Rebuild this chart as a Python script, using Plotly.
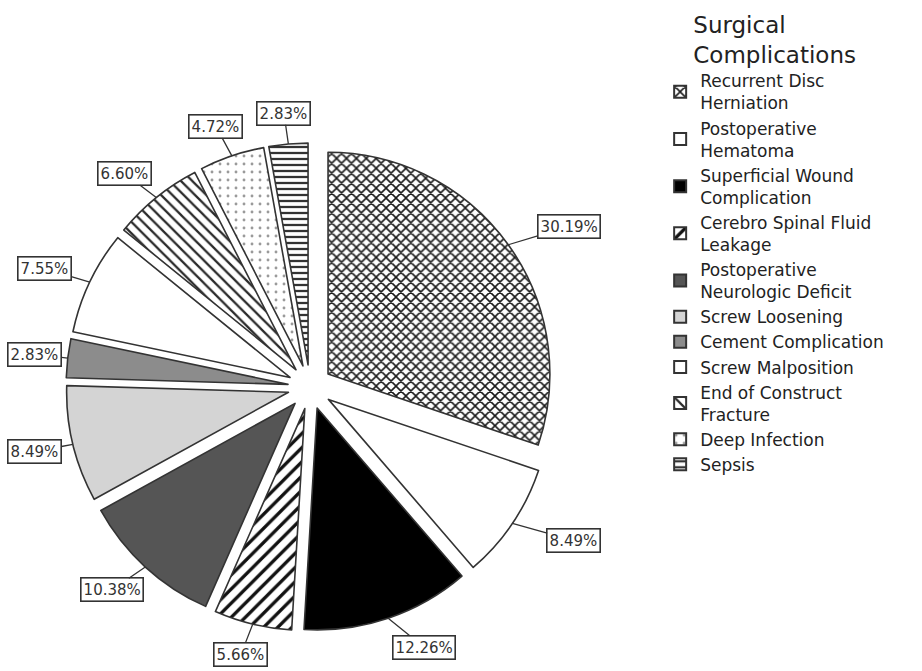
import math
import plotly.graph_objects as go

categories = [
    "Recurrent Disc<br>Herniation",
    "Postoperative<br>Hematoma",
    "Superficial Wound<br>Complication",
    "Cerebro Spinal Fluid<br>Leakage",
    "Postoperative<br>Neurologic Deficit",
    "Screw Loosening",
    "Cement Complication",
    "Screw Malposition",
    "End of Construct<br>Fracture",
    "Deep Infection",
    "Sepsis",
]
counts = [32, 9, 13, 6, 11, 9, 3, 8, 7, 5, 3]

fill_colors = ["white", "white", "black", "white", "#555555", "#d4d4d4",
               "#8c8c8c", "white", "white", "white", "white"]
pattern_shapes = ["x", "", "", "/", "", "", "", "", "\\", ".", "-"]
pattern_fg = ["#1a1a1a", "#222222", "#222222", "#111111", "#222222", "#222222",
              "#222222", "#222222", "#2a2a2a", "#9a9a9a", "#333333"]
pattern_size = [7, 8, 8, 10, 8, 8, 8, 8, 8, 8, 6]
pattern_solid = [0.4, 0.3, 0.3, 0.33, 0.3, 0.3, 0.3, 0.3, 0.28, 0.1, 0.38]

W, H = 922, 671
PULL = 0.1
dom_x = [0.0716, 0.6009]
dom_y = [0.0596, 0.7869]

fig = go.Figure(go.Pie(
    labels=categories,
    values=counts,
    sort=False,
    direction="clockwise",
    rotation=0,
    pull=[PULL] * len(counts),
    textinfo="none",
    hoverinfo="label+percent",
    marker=dict(
        colors=fill_colors,
        line=dict(color="#333333", width=1.6),
        pattern=dict(shape=pattern_shapes, fgcolor=pattern_fg, bgcolor=fill_colors,
                     size=pattern_size, solidity=pattern_solid, fgopacity=1,
                     fillmode="replace"),
    ),
    domain=dict(x=dom_x, y=dom_y),
))

# geometry of the pie as plotly computes it
aw = W * (dom_x[1] - dom_x[0])
ah = H * (dom_y[1] - dom_y[0])
r = min(aw, ah) / 2 / (1 + PULL)
cx = W * (dom_x[0] + dom_x[1]) / 2
cy = H * (1 - dom_y[0]) - ah / 2

total = sum(counts)
cum = 0
annotations = []
FS = 15
for v in counts:
    frac = v / total
    mid = 2 * math.pi * (cum + frac / 2)
    cum += frac
    dx, dy = math.sin(mid), -math.cos(mid)
    px = cx + (1 + PULL) * r * dx
    py = cy + (1 + PULL) * r * dy
    txt = f"{100 * v / total:.2f}%"
    hw = len(txt) * FS * 0.33 + 4
    hh = 11
    bx = px + 50 * dx + (20 if dx > 0.3 else 0)
    by = py + 20 * dy + hh * dy
    bx = max(bx, hw + 6)
    by = min(by, H - hh - 1)
    annotations.append(dict(
        x=px / W, y=1 - py / H, xref="paper", yref="paper",
        text=txt,
        showarrow=True, arrowhead=0, arrowwidth=1.3, arrowcolor="#333333",
        ax=bx - px, ay=by - py, standoff=0, startstandoff=0,
        font=dict(family="DejaVu Sans", size=FS, color="#333333"),
        bordercolor="#333333", borderwidth=1.6, borderpad=2, bgcolor="white",
    ))

fig.update_layout(
    width=W, height=H,
    margin=dict(l=0, r=0, t=0, b=0),
    paper_bgcolor="white",
    font=dict(family="DejaVu Sans", color="#222222"),
    annotations=annotations,
    legend=dict(
        x=0.716, y=0.995, xanchor="left", yanchor="top",
        title=dict(text="Surgical<br>Complications", side="top center",
                   font=dict(size=23, color="#222222")),
        font=dict(size=17, color="#222222"),
        tracegroupgap=0, itemsizing="constant",
    ),
)

fig.write_html("out.html", post_script="document.body.style.margin='0';",
               config={"displayModeBar": False})
